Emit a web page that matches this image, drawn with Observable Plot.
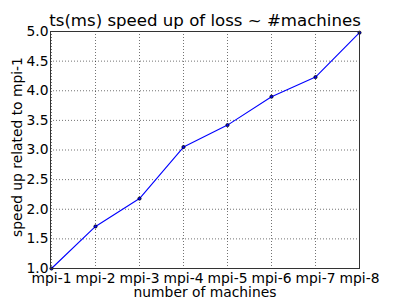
<!DOCTYPE html>
<html>
<head>
<meta charset="utf-8">
<script src="https://cdn.jsdelivr.net/npm/d3@7"></script>
<script src="https://cdn.jsdelivr.net/npm/@observablehq/plot@0.6"></script>
<style>
  html, body { margin: 0; padding: 0; background: #fff; }
  #chart svg { display: block; }
</style>
</head>
<body>
<div id="chart"></div>
<script>
const categories = ["mpi-1", "mpi-2", "mpi-3", "mpi-4", "mpi-5", "mpi-6", "mpi-7", "mpi-8"];
const speedup = [1.0, 1.71, 2.18, 3.05, 3.42, 3.90, 4.23, 4.98];
const yTicks = [1.0, 1.5, 2.0, 2.5, 3.0, 3.5, 4.0, 4.5, 5.0];
const titleText = "ts(ms) speed up of loss ~ #machines";
const xLabel = "number of machines";
const yLabel = "speed up related to mpi-1";

const data = categories.map((c, i) => ({machine: c, value: speedup[i]}));
const font = "'DejaVu Sans', sans-serif";
const fs = "13.85px";

const chart = Plot.plot({
  width: 399,
  height: 299,
  marginLeft: 50,
  marginRight: 40,
  marginTop: 31,
  marginBottom: 31,
  style: {fontFamily: font, fontSize: fs, color: "#000", background: "#fff", overflow: "visible"},
  x: {type: "point", domain: categories, padding: 0, inset: 0},
  y: {domain: [1, 5], inset: 0},
  marks: [
    Plot.gridX(categories, {stroke: "#000", strokeOpacity: 0.55, strokeWidth: 1, strokeDasharray: "1,2"}),
    Plot.gridY(yTicks, {stroke: "#000", strokeOpacity: 0.55, strokeWidth: 1, strokeDasharray: "1,2"}),
    Plot.axisX({ticks: categories, tickSize: 0, tickPadding: 5, label: null, fontSize: fs}),
    Plot.axisY({ticks: yTicks, tickSize: 0, tickPadding: 2, tickFormat: d3.format(".1f"), label: null, fontSize: fs}),
    Plot.line(data, {x: "machine", y: "value", stroke: "#0000ff", strokeWidth: 1.1}),
    Plot.dot(data, {x: "machine", y: "value", r: 1.6, fill: "#0000ff", stroke: "#000", strokeWidth: 0.8}),
    Plot.frame({stroke: "#333", strokeWidth: 1}),
    Plot.text([titleText], {frameAnchor: "top", textAnchor: "middle", lineAnchor: "top", dy: -17, fontSize: "16.6px", fill: "#000", text: d => d}),
    Plot.text([xLabel], {frameAnchor: "bottom", textAnchor: "middle", lineAnchor: "top", dy: 19, fontSize: fs, fill: "#000", text: d => d}),
    Plot.text([yLabel], {frameAnchor: "left", textAnchor: "middle", lineAnchor: "middle", rotate: -90, dx: -33, dy: -3, fontSize: fs, fill: "#000", text: d => d})
  ]
});
document.getElementById("chart").appendChild(chart);
</script>
</body>
</html>
